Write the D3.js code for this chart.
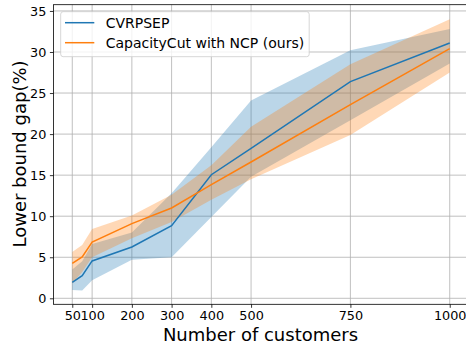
<!DOCTYPE html>
<html><head><meta charset="utf-8">
<script src="https://cdn.jsdelivr.net/npm/d3@7"></script>
<style>html,body{margin:0;padding:0;background:#fff;}svg{display:block;font-family:"DejaVu Sans",sans-serif;}</style>
</head><body><svg id="c" width="466" height="350"></svg>
<script>
const customers = [50, 75, 100, 200, 300, 400, 500, 750, 1000];
const xTicks = [50, 100, 200, 300, 400, 500, 750, 1000];
const yTicks = [0, 5, 10, 15, 20, 25, 30, 35];
const seriesNames = ["CVRPSEP", "CapacityCut with NCP (ours)"];
const cvrpsepMean = [1.95, 2.75, 4.55, 6.25, 8.85, 15.05, 18.25, 26.4, 31.1];
const cvrpsepLow  = [1.0, 0.95, 2.2, 4.7, 5.0, 9.9, 14.8, 21.7, 28.6];
const cvrpsepHigh = [3.5, 4.5, 6.6, 8.0, 12.8, 18.4, 24.1, 30.2, 32.8];
const ncpMean = [4.25, 5.05, 6.85, 9.1, 11.0, 13.85, 16.6, 23.6, 30.4];
const ncpLow  = [1.8, 3.2, 5.0, 7.3, 9.3, 12.0, 14.5, 19.9, 27.5];
const ncpHigh = [5.65, 6.5, 8.45, 10.1, 12.6, 16.2, 20.9, 28.5, 34.0];
const colors = ["#1f77b4", "#ff7f0e"];

const svg = d3.select("#c");
const L = 53.4, R = 468.6, T = 4.7, B = 304.3;
const x = d3.scaleLinear().domain([2.5, 1047.5]).range([L, R]);
const y = d3.scaleLinear().domain([-0.73, 35.76]).range([B, T]);

const g = svg.append("g");
g.selectAll(".gx").data(xTicks).enter().append("line")
  .attr("x1", d => x(d)).attr("x2", d => x(d)).attr("y1", T).attr("y2", B)
  .attr("stroke", "#b0b0b0").attr("stroke-width", 0.8);
g.selectAll(".gy").data(yTicks).enter().append("line")
  .attr("x1", L).attr("x2", R).attr("y1", d => y(d)).attr("y2", d => y(d))
  .attr("stroke", "#b0b0b0").attr("stroke-width", 0.8);

const series = [
  {mean: cvrpsepMean, low: cvrpsepLow, high: cvrpsepHigh},
  {mean: ncpMean, low: ncpLow, high: ncpHigh}
];
const area = d3.area().x((d,i) => x(customers[i])).y0(d => y(d[0])).y1(d => y(d[1]));
const line = d3.line().x((d,i) => x(customers[i])).y(d => y(d));
series.forEach((s, k) => {
  g.append("path").datum(s.low.map((v,i) => [v, s.high[i]]))
    .attr("d", area).attr("fill", colors[k]).attr("fill-opacity", 0.3).attr("stroke", "none");
});
series.forEach((s, k) => {
  g.append("path").datum(s.mean).attr("d", line)
    .attr("fill", "none").attr("stroke", colors[k]).attr("stroke-width", 1.5);
});

const xAxis = d3.axisBottom(x).tickValues(xTicks).tickSize(3.5).tickPadding(3.5).tickFormat(d3.format("d"));
const yAxis = d3.axisLeft(y).tickValues(yTicks).tickSize(3.5).tickPadding(3.5).tickFormat(d3.format("d"));
const gx = svg.append("g").attr("transform", `translate(0,${B})`).call(xAxis);
const gy = svg.append("g").attr("transform", `translate(${L},0)`).call(yAxis);
[gx, gy].forEach(a => {
  a.select(".domain").remove();
  a.selectAll(".tick line").attr("stroke", "#000").attr("stroke-width", 0.8);
  a.selectAll(".tick text").attr("fill", "#000").style("font-size", "12.8px").style("font-family", "DejaVu Sans");
});
svg.append("rect").attr("x", L).attr("y", T).attr("width", R - L).attr("height", B - T)
  .attr("fill", "none").attr("stroke", "#000").attr("stroke-width", 0.8);

svg.append("text").attr("x", 260.5).attr("y", 340.5).attr("text-anchor", "middle")
  .style("font-size", "18px").attr("fill", "#000").text("Number of customers");
svg.append("text").attr("transform", `translate(25.5,154) rotate(-90)`).attr("text-anchor", "middle")
  .style("font-size", "18px").attr("fill", "#000").text("Lower bound gap(%)");

const lg = svg.append("g");
lg.append("rect").attr("x", 60.7).attr("y", 11.7).attr("width", 248.5).attr("height", 45)
  .attr("rx", 2.5).attr("fill", "#fff").attr("fill-opacity", 0.8).attr("stroke", "#cccccc").attr("stroke-width", 0.8);
seriesNames.forEach((n, k) => {
  const yy = 22.7 + k * 20;
  lg.append("line").attr("x1", 65).attr("x2", 94.3).attr("y1", yy).attr("y2", yy)
    .attr("stroke", colors[k]).attr("stroke-width", 1.5);
  lg.append("text").attr("x", 105.7).attr("y", yy + 5).style("font-size", "14px").attr("fill", "#000").text(n);
});
</script></body></html>
